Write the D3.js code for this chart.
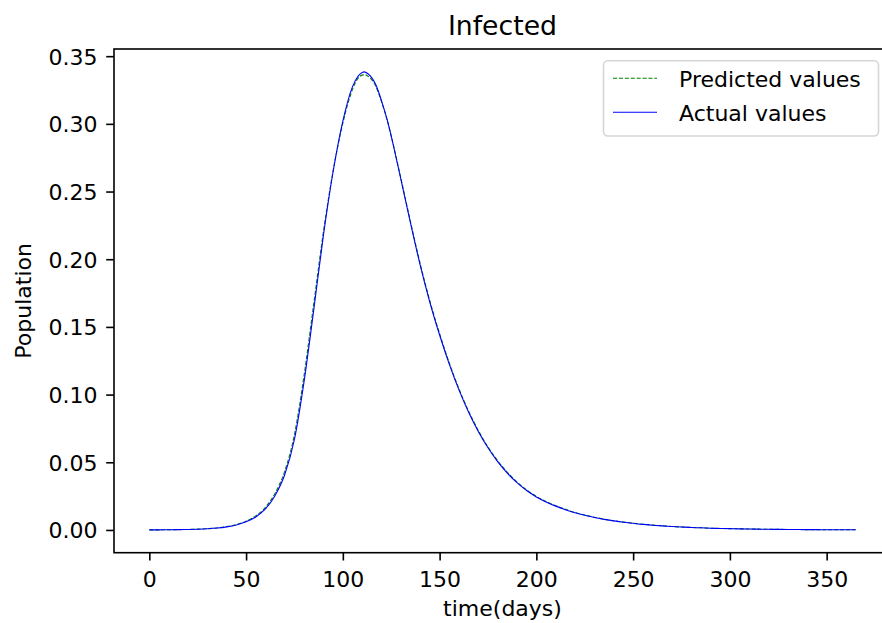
<!DOCTYPE html>
<html>
<head>
<meta charset="utf-8">
<script src="https://cdn.jsdelivr.net/npm/d3@7"></script>
<style>
  html, body { margin: 0; padding: 0; background: #fff; }
  svg { display: block; font-family: "DejaVu Sans", sans-serif; }
</style>
</head>
<body>
<svg id="chart" width="882" height="623"></svg>
<script>
// ---- data ----
const days = [0, 5, 10, 15, 20, 25, 30, 35, 40, 45, 50, 55, 60, 65, 70, 75, 80, 85, 90, 95, 100,
  105, 108, 110, 111, 113, 115, 117, 120, 123, 125, 128, 130, 135, 140, 145, 150, 155, 160, 165,
  170, 175, 180, 185, 190, 195, 200, 205, 210, 215, 220, 225, 230, 235, 240, 245, 250, 255, 260,
  265, 270, 275, 280, 285, 290, 295, 300, 305, 310, 315, 320, 325, 330, 335, 340, 345, 350, 355,
  360, 365];

const actualValues = [0.00005, 0.00008, 0.00013, 0.00021, 0.00034, 0.00054, 0.00087, 0.0014, 0.0023,
  0.0037, 0.0060, 0.0096, 0.0155, 0.0255, 0.0410, 0.0670, 0.1100, 0.1630, 0.2180, 0.2650, 0.3020,
  0.3275, 0.3355, 0.3380, 0.3384, 0.3370, 0.3340, 0.3290, 0.3170, 0.3025, 0.2910, 0.2720, 0.2590,
  0.2265, 0.1955, 0.1680, 0.1440, 0.1225, 0.1035, 0.0870, 0.0728, 0.0607, 0.0505, 0.0420, 0.0349,
  0.0291, 0.0244, 0.0207, 0.0176, 0.0150, 0.0127, 0.0108, 0.0092, 0.0078, 0.0067, 0.0057, 0.0049,
  0.0041, 0.0035, 0.0030, 0.0026, 0.0022, 0.0018, 0.0016, 0.0013, 0.0011, 0.00095, 0.0008, 0.00068,
  0.00058, 0.00049, 0.00042, 0.00036, 0.0003, 0.00026, 0.00022, 0.00019, 0.00016, 0.00014, 0.00012];

const predictedValues = [0.00006, 0.00009, 0.00014, 0.00023, 0.00037, 0.00059, 0.00095, 0.0015, 0.0025,
  0.0040, 0.0065, 0.0104, 0.0167, 0.0272, 0.0435, 0.0705, 0.1145, 0.1675, 0.2205, 0.2655, 0.3005,
  0.3255, 0.3340, 0.3360, 0.3364, 0.3352, 0.3325, 0.3278, 0.3162, 0.3022, 0.2910, 0.2725, 0.2597,
  0.2275, 0.1965, 0.1690, 0.1450, 0.1233, 0.1043, 0.0877, 0.0735, 0.0613, 0.0511, 0.0426, 0.0354,
  0.0295, 0.0248, 0.0210, 0.0179, 0.0153, 0.0129, 0.0110, 0.0094, 0.0080, 0.0068, 0.0058, 0.0050,
  0.0042, 0.0036, 0.0031, 0.0026, 0.0022, 0.0019, 0.0016, 0.0013, 0.0011, 0.00097, 0.00082, 0.0007,
  0.00059, 0.0005, 0.00043, 0.00037, 0.00031, 0.00026, 0.00022, 0.00019, 0.00016, 0.00014, 0.00012];

const xTicks = [0, 50, 100, 150, 200, 250, 300, 350];
const yTicks = [0.00, 0.05, 0.10, 0.15, 0.20, 0.25, 0.30, 0.35];
const seriesNames = ["Predicted values", "Actual values"];
const titleText = "Infected";
const xLabel = "time(days)";
const yLabel = "Population";

// ---- layout ----
const L = 114, R = 891, T = 49, B = 552.7;
const svg = d3.select("#chart");

const x = d3.scaleLinear().domain([-18.25, 383.25]).range([L, R]);
const y = d3.scaleLinear().domain([-0.0168, 0.3553]).range([B, T]);

svg.append("defs").append("clipPath").attr("id", "clip")
  .append("rect").attr("x", L).attr("y", T).attr("width", R - L).attr("height", B - T);

const actual = days.map((d, i) => ({ d, v: actualValues[i] }));
const predicted = days.map((d, i) => ({ d, v: predictedValues[i] }));

const line = d3.line().x(p => x(p.d)).y(p => y(p.v)).curve(d3.curveMonotoneX);

const plot = svg.append("g").attr("clip-path", "url(#clip)");
plot.append("path").datum(predicted)
  .attr("d", line).attr("fill", "none")
  .attr("stroke", "#008000").attr("stroke-width", 1.1)
  .attr("stroke-dasharray", "4.1,1.8");
plot.append("path").datum(actual)
  .attr("d", line).attr("fill", "none")
  .attr("stroke", "#0000ff").attr("stroke-width", 1.1);

// spines
svg.append("rect").attr("x", L).attr("y", T).attr("width", R - L).attr("height", B - T)
  .attr("fill", "none").attr("stroke", "#000").attr("stroke-width", 1.6);

// x axis
const xAxis = d3.axisBottom(x).tickValues(xTicks).tickSizeInner(7.8).tickSizeOuter(0)
  .tickPadding(7.8).tickFormat(d3.format("d"));
const gx = svg.append("g").attr("transform", `translate(0,${B})`).call(xAxis);
gx.select(".domain").remove();
gx.selectAll(".tick line").attr("stroke", "#000").attr("stroke-width", 1.6);
gx.selectAll(".tick text").attr("font-size", 22).attr("fill", "#000")
  .attr("font-family", "DejaVu Sans").attr("y", 34.3).attr("dy", null);

// y axis
const yAxis = d3.axisLeft(y).tickValues(yTicks).tickSizeInner(7.8).tickSizeOuter(0)
  .tickPadding(7.8).tickFormat(d3.format(".2f"));
const gy = svg.append("g").attr("transform", `translate(${L},0)`).call(yAxis);
gy.select(".domain").remove();
gy.selectAll(".tick line").attr("stroke", "#000").attr("stroke-width", 1.6);
gy.selectAll(".tick text").attr("font-size", 22).attr("fill", "#000")
  .attr("font-family", "DejaVu Sans").attr("x", -16.5).attr("dy", "0.36em");

// title and labels
svg.append("text").attr("x", (L + R) / 2).attr("y", 35).attr("text-anchor", "middle")
  .attr("font-size", 26.7).attr("fill", "#000").text(titleText);
svg.append("text").attr("x", (L + R) / 2).attr("y", 616).attr("text-anchor", "middle")
  .attr("font-size", 22).attr("fill", "#000").text(xLabel);
svg.append("text").attr("transform", `translate(31,${(T + B) / 2}) rotate(-90)`)
  .attr("text-anchor", "middle").attr("font-size", 22).attr("fill", "#000").text(yLabel);

// legend
const lg = svg.append("g");
lg.append("rect").attr("x", 603.5).attr("y", 60.8).attr("width", 275).attr("height", 75.2)
  .attr("rx", 4.4).attr("ry", 4.4)
  .attr("fill", "#fff").attr("fill-opacity", 0.8)
  .attr("stroke", "#d6d6d6").attr("stroke-width", 1.6);
const legendItems = [
  { name: seriesNames[0], color: "#008000", dash: "4.1,1.8", cy: 78.3 },
  { name: seriesNames[1], color: "#0000ff", dash: null, cy: 112.3 }
];
legendItems.forEach(it => {
  lg.append("line").attr("x1", 613).attr("x2", 657).attr("y1", it.cy).attr("y2", it.cy)
    .attr("stroke", it.color).attr("stroke-width", 1.1)
    .attr("stroke-dasharray", it.dash);
  lg.append("text").attr("x", 679).attr("y", it.cy + 8.2)
    .attr("font-size", 22).attr("fill", "#000").text(it.name);
});
</script>
</body>
</html>
